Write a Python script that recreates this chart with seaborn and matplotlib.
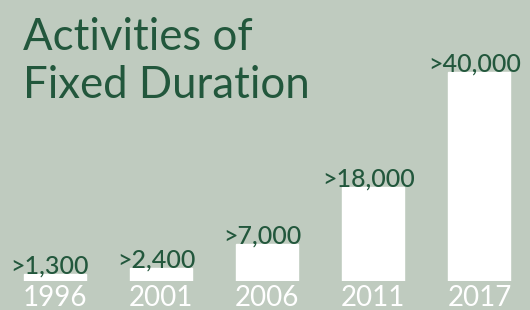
import matplotlib
matplotlib.use('Agg')
import matplotlib.pyplot as plt
import seaborn as sns
import pandas as pd

years = ['1996', '2001', '2006', '2011', '2017']
counts = [1300, 2400, 7000, 18000, 40000]
count_labels = ['>1,300', '>2,400', '>7,000', '>18,000', '>40,000']
title = 'Activities of\nFixed Duration'

bg = '#bfcbbf'
dark_green = '#22573c'

sns.set_style('white')
plt.rcParams['font.family'] = ['Lato', 'DejaVu Sans']

df = pd.DataFrame({'year': years, 'count': counts})

fig = plt.figure(figsize=(5.3, 3.1), dpi=100, facecolor=bg)
ax = fig.add_axes([0, 29 / 310, 1, 281 / 310])
ax.set_facecolor(bg)

sns.barplot(data=df, x='year', y='count', color='white', width=0.584,
            saturation=1, ax=ax)

# labels sit on top of each bar, nudged a little to the left like the original
for bar, lbl in zip(ax.patches, count_labels):
    ax.annotate(lbl, (bar.get_x() + bar.get_width() / 2, bar.get_height()),
                xytext=(-3.5, -2.5), textcoords='offset points',
                ha='center', va='bottom', color=dark_green,
                fontsize=18, fontweight='medium')

ax.set_xlim(-0.514, 4.476)
ax.set_ylim(0, 53800)
sns.despine(ax=ax, left=True, bottom=True)
ax.set_yticks([])
ax.set_xlabel('')
ax.set_ylabel('')
ax.tick_params(axis='x', length=0, pad=3, labelsize=20, labelcolor='white')

fig.text(23 / 530, 1 - 17 / 310, title, ha='left', va='top',
         fontsize=31.5, color=dark_green, linespacing=1.22)

fig.savefig('out.png', dpi=100, facecolor=bg)
